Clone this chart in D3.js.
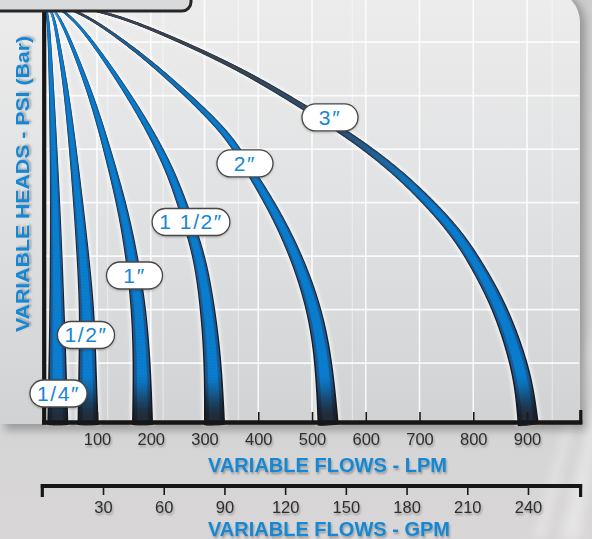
<!DOCTYPE html>
<html><head><meta charset="utf-8">
<script src="https://cdn.jsdelivr.net/npm/d3@7"></script>
<style>body{margin:0;background:#cfcfcf;}svg{display:block}</style>
</head><body><svg id="chart" width="592" height="539"></svg>
<script>
// ---------- data ----------
const lpmTicks = [100,200,300,400,500,600,700,800,900];
const gpmTicks = [30,60,90,120,150,180,210,240];
const sizeLabels = ["1/4\u2033","1/2\u2033","1\u2033","1 1/2\u2033","2\u2033","3\u2033"];
// flow in LPM, head in relative units (0 at axis)
const flowQuarter = [0, 7.9, 11.6, 16.3, 22.8, 25.6, 26.5, 27.1];
const headQuarter = [789, 766, 714, 602, 396, 209, 110, 0];
const flowHalf = [0, 18.1, 27.4, 46.0, 66.5, 74.0, 81.4, 82.3, 83.3];
const headHalf = [789, 766, 714, 602, 396, 308, 209, 110, 0];
const flowOne = [0, 25.6, 49.8, 92.6, 124.2, 148.4, 165.1, 178.1, 183.7, 184.7];
const headOne = [789, 766, 714, 602, 490, 396, 308, 209, 110, 0];
const flowOneHalf = [0, 46.0, 96.3, 165.1, 207.9, 239.5, 265.6, 291.6, 306.5, 315.8, 318.6];
const headOneHalf = [789, 766, 705, 602, 527, 462, 387, 308, 209, 110, 0];
const flowTwo = [0, 72.1, 146.5, 198.6, 254.4, 315.8, 353.0, 392.1, 431.2, 472.1, 505.6, 522.3, 529.8];
const headTwo = [789, 766, 714, 673, 624, 565, 522, 458, 393, 308, 209, 110, 0];
const flowThree = [0, 118.6, 198.6, 291.6, 384.7, 477.7, 570.7, 645.1, 706.5, 769.8, 812.6, 849.8, 877.7, 894.4, 901.9];
const headThree = [789, 766, 736, 695, 649, 593, 535, 479, 422, 353, 284, 213, 135, 69, 0];
const labelFlow = [28.4, 79.5, 169.8, 274.9, 375.3, 533.5];
const labelHead = [53.3, 162.6, 273.8, 373.8, 483.2, 569.2];
const gridHeads = [110, 210, 310, 410, 510, 610, 710];
const minorGridFlows = [120, 223, 363, 575, 947];

const series = [
  [flowQuarter, headQuarter], [flowHalf, headHalf], [flowOne, headOne],
  [flowOneHalf, headOneHalf], [flowTwo, headTwo], [flowThree, headThree]
].map((d, i) => ({label: sizeLabels[i], pts: d[0].map((f, j) => [f, d[1][j]]), lf: labelFlow[i], lh: labelHead[i]}));

// ---------- scales ----------
const x = d3.scaleLinear().domain([0, 1000]).range([43.25, 580.75]);
const xg = d3.scaleLinear().domain([0, 266]).range([42.3, 580.6]);
const y = d3.scaleLinear().domain([0, 770]).range([422, 10]);

const svg = d3.select("#chart");
const defs = svg.append("defs");

function vgrad(id, stops, x1, y1, x2, y2) {
  const g = defs.append("linearGradient").attr("id", id).attr("gradientUnits", "userSpaceOnUse")
    .attr("x1", x1).attr("y1", y1).attr("x2", x2).attr("y2", y2);
  stops.forEach(s => g.append("stop").attr("offset", s[0]).attr("stop-color", s[1]).attr("stop-opacity", s[2] == null ? 1 : s[2]));
}
vgrad("bgGrad", [[0, "#cdcdcd"], [0.6, "#d4d4d4"], [1, "#d8d6d6"]], 0, 0, 0, 539);
vgrad("panelGrad", [[0, "#ececed"], [0.5, "#e0e1e2"], [1, "#d1d2d4"]], 0, 0, 0, 424);
vgrad("edgeGrad", [[0, "#303844"], [0.5, "#1e242d"], [1, "#15191f"]], 0, 0, 0, 424);

const blur = defs.append("filter").attr("id", "halo").attr("x", "-20%").attr("y", "-20%").attr("width", "140%").attr("height", "140%");
blur.append("feGaussianBlur").attr("stdDeviation", 1.6);
const blur2 = defs.append("filter").attr("id", "soft").attr("x", "-50%").attr("y", "-50%").attr("width", "200%").attr("height", "200%");
blur2.append("feGaussianBlur").attr("stdDeviation", 4);
const ts = defs.append("filter").attr("id", "tshadow").attr("x", "-20%").attr("y", "-40%").attr("width", "140%").attr("height", "180%");
ts.append("feDropShadow").attr("dx", 1).attr("dy", 2).attr("stdDeviation", 1.3).attr("flood-color", "#000").attr("flood-opacity", 0.3);
const bs = defs.append("filter").attr("id", "bshadow").attr("x", "-20%").attr("y", "-40%").attr("width", "140%").attr("height", "180%");
bs.append("feDropShadow").attr("dx", 0).attr("dy", 1).attr("stdDeviation", 1).attr("flood-color", "#000").attr("flood-opacity", 0.25);

// ---------- background ----------
svg.append("rect").attr("width", 592).attr("height", 539).attr("fill", "url(#bgGrad)");
svg.append("path").attr("d", "M560,539 L600,380 L600,420 L580,539 Z").attr("fill", "#fff").attr("opacity", 0.35).attr("filter", "url(#soft)");
svg.append("path").attr("d", "M532,539 L592,330 L592,350 L545,539 Z").attr("fill", "#fff").attr("opacity", 0.25).attr("filter", "url(#soft)");
svg.append("path").attr("d", "M0,-10 H548 A32,32 0 0 1 580,22 V428 H0 Z")
  .attr("fill", "#000").attr("opacity", 0.28).attr("transform", "translate(5,2)").attr("filter", "url(#soft)");
svg.append("path").attr("d", "M0,-10 H548 A32,32 0 0 1 580,22 V424 H0 Z").attr("fill", "url(#panelGrad)");

// ---------- grid ----------
const grid = svg.append("g");
grid.selectAll(".mv").data(minorGridFlows).join("line")
  .attr("x1", d => x(d)).attr("x2", d => x(d)).attr("y1", 0).attr("y2", 422)
  .attr("stroke", "#fff").attr("stroke-width", 1).attr("opacity", 0.5);
grid.selectAll(".v").data(lpmTicks).join("line")
  .attr("x1", d => x(d)).attr("x2", d => x(d)).attr("y1", 0).attr("y2", 422)
  .attr("stroke", "#fff").attr("stroke-width", 1.6).attr("opacity", 0.85);
grid.selectAll(".h").data(gridHeads).join("line")
  .attr("x1", 44).attr("x2", 579).attr("y1", d => y(d)).attr("y2", d => y(d))
  .attr("stroke", "#fff").attr("stroke-width", 1.6).attr("opacity", 0.85);

// ---------- tubes ----------
const lineGen = d3.line().x(d => x(d[0])).y(d => y(d[1])).curve(d3.curveBasis);
const widthAt = py => 2 + 19 * Math.pow(Math.max(0, py) / 422, 1.15);
const smooth = (a, b, v) => { const t = Math.min(1, Math.max(0, (v - a) / (b - a))); return t * t * (3 - 2 * t); };
const midCol = [d3.interpolateRgb("#2b3441", "#1b5c9b"), "#1a222d"];
const innCol = [d3.interpolateRgb("#3a4656", "#0a7ecf"), "#222d3b"];
const tubes = svg.append("g");
series.slice().reverse().forEach(s => {
  const tmp = tubes.append("path").attr("d", lineGen(s.pts)).attr("fill", "none");
  const node = tmp.node();
  const L = node.getTotalLength();
  const n = Math.ceil(L / 1.5);
  const P = d3.range(n + 1).map(i => { const p = node.getPointAtLength(L * i / n); return [p.x, p.y]; });
  tmp.remove();
  const a = P[P.length - 2], b = P[P.length - 1];
  const dl = Math.hypot(b[0] - a[0], b[1] - a[1]) || 1;
  P.push([b[0] + (b[0] - a[0]) / dl * 3, b[1] + (b[1] - a[1]) / dl * 3]);
  const T = P.map((p, i) => {
    const p0 = P[Math.max(0, i - 1)], p1 = P[Math.min(P.length - 1, i + 1)];
    const tx = p1[0] - p0[0], ty = p1[1] - p0[1], l = Math.hypot(tx, ty) || 1;
    return [tx / l, ty / l];
  });
  const N = T.map(t => [-t[1], t[0]]);
  const W = P.map(p => widthAt(p[1]));
  const edges = (k, add) => {
    const left = [], right = [];
    P.forEach((p, i) => {
      const w = W[i] * k / 2 + (add || 0);
      left.push([p[0] + N[i][0] * w, p[1] + N[i][1] * w]);
      right.push([p[0] - N[i][0] * w, p[1] - N[i][1] * w]);
    });
    return [left, right];
  };
  const ribbon = (k, add) => {
    const [left, right] = edges(k, add);
    return "M" + left.concat(right.slice().reverse()).map(q => q[0].toFixed(2) + "," + q[1].toFixed(2)).join("L") + "Z";
  };
  tubes.append("path").attr("d", ribbon(1, 2.5)).attr("fill", "#fff").attr("opacity", 0.55).attr("filter", "url(#halo)");
  tubes.append("path").attr("d", ribbon(1)).attr("fill", "url(#edgeGrad)");
  [[0.8, midCol], [0.5, innCol]].forEach(([k, cols]) => {
    const [left, right] = edges(k);
    const segs = d3.range(P.length - 1).map(i => {
      const j = Math.min(P.length - 1, i + 1);
      const vb = smooth(0.45, 0.75, Math.abs(T[i][1]));
      const dark = smooth(372, 418, P[i][1]);
      const c = d3.interpolateRgb(cols[0](vb), cols[1])(dark);
      const d = "M" + [left[i], left[j], right[j], right[i]].map(q => q[0].toFixed(2) + "," + q[1].toFixed(2)).join("L") + "Z";
      return {d, c};
    });
    tubes.append("g").selectAll("path").data(segs).join("path")
      .attr("d", d => d.d).attr("fill", d => d.c).attr("stroke", d => d.c).attr("stroke-width", 0.6);
  });
});

// ---------- axes ----------
const font = "'Liberation Sans', Arial, sans-serif";
const axL = svg.append("g").attr("transform", "translate(0,422)")
  .call(d3.axisBottom(x).tickValues(lpmTicks).tickSizeInner(-10).tickSizeOuter(0).tickPadding(11));
axL.select(".domain").remove();
axL.selectAll(".tick line").attr("stroke", "#1a1a1a").attr("stroke-width", 1.6);
axL.selectAll(".tick text").attr("font-family", font).attr("font-size", 16.5).attr("fill", "#2e2e2e").attr("filter", "url(#tshadow)");
svg.append("line").attr("x1", 42).attr("x2", x(1000) + 1.5).attr("y1", 422.5).attr("y2", 422.5).attr("stroke", "#161616").attr("stroke-width", 4.5);
svg.append("line").attr("x1", x(1000)).attr("x2", x(1000)).attr("y1", 410).attr("y2", 424).attr("stroke", "#161616").attr("stroke-width", 3.2);
svg.append("line").attr("x1", 44.2).attr("x2", 44.2).attr("y1", 6).attr("y2", 424.5).attr("stroke", "#161616").attr("stroke-width", 4.2);

const axG = svg.append("g").attr("transform", "translate(0,486)")
  .call(d3.axisBottom(xg).tickValues(gpmTicks).tickSizeInner(9).tickSizeOuter(0).tickPadding(6.5));
axG.select(".domain").remove();
axG.selectAll(".tick line").attr("stroke", "#1a1a1a").attr("stroke-width", 1.6);
axG.selectAll(".tick text").attr("font-family", font).attr("font-size", 16.5).attr("fill", "#2e2e2e").attr("filter", "url(#tshadow)");
svg.append("line").attr("x1", xg(0) - 1.5).attr("x2", xg(266) + 1.5).attr("y1", 486).attr("y2", 486).attr("stroke", "#161616").attr("stroke-width", 4);
[0, 266].forEach(v => svg.append("line").attr("x1", xg(v)).attr("x2", xg(v)).attr("y1", 484).attr("y2", 497).attr("stroke", "#161616").attr("stroke-width", 3.2));

// ---------- titles ----------
const blue = "#1787d2";
svg.append("text").attr("x", 327.5).attr("y", 472).attr("text-anchor", "middle").attr("font-family", font)
  .attr("font-weight", "bold").attr("font-size", 19.5).attr("fill", blue).attr("textLength", 239).attr("lengthAdjust", "spacingAndGlyphs")
  .attr("filter", "url(#tshadow)").text("VARIABLE FLOWS - LPM");
svg.append("text").attr("x", 329).attr("y", 536).attr("text-anchor", "middle").attr("font-family", font)
  .attr("font-weight", "bold").attr("font-size", 19.5).attr("fill", blue).attr("textLength", 242).attr("lengthAdjust", "spacingAndGlyphs")
  .attr("filter", "url(#tshadow)").text("VARIABLE FLOWS - GPM");
svg.append("text").attr("transform", "translate(29,184) rotate(-90)").attr("text-anchor", "middle").attr("font-family", font)
  .attr("font-weight", "bold").attr("font-size", 18.5).attr("fill", blue).attr("textLength", 296).attr("lengthAdjust", "spacingAndGlyphs")
  .attr("filter", "url(#tshadow)").text("VARIABLE HEADS - PSI (Bar)");

// ---------- size labels ----------
const lab = svg.append("g").selectAll("g").data(series).join("g")
  .attr("transform", d => `translate(${x(d.lf)},${y(d.lh)})`);
lab.append("rect").attr("fill", "#fff").attr("stroke", "#474747").attr("stroke-width", 1.3).attr("filter", "url(#bshadow)");
const texts = lab.append("text").attr("text-anchor", "middle").attr("y", 7.5).attr("font-family", font)
  .attr("font-size", 21).attr("letter-spacing", 1.6).attr("fill", "#1886d1").text(d => d.label);
texts.each(function () {
  const w = Math.max(56, this.getComputedTextLength() + 14);
  d3.select(this.parentNode).select("rect").attr("x", -w / 2).attr("y", -13.5).attr("width", w).attr("height", 27).attr("rx", 13.5);
});

// ---------- title box (top-left, cut off) ----------
svg.append("rect").attr("x", -12).attr("y", -25).attr("width", 203).attr("height", 36).attr("rx", 9)
  .attr("fill", "#d9dadb").attr("stroke", "#262626").attr("stroke-width", 3);
</script></body></html>
